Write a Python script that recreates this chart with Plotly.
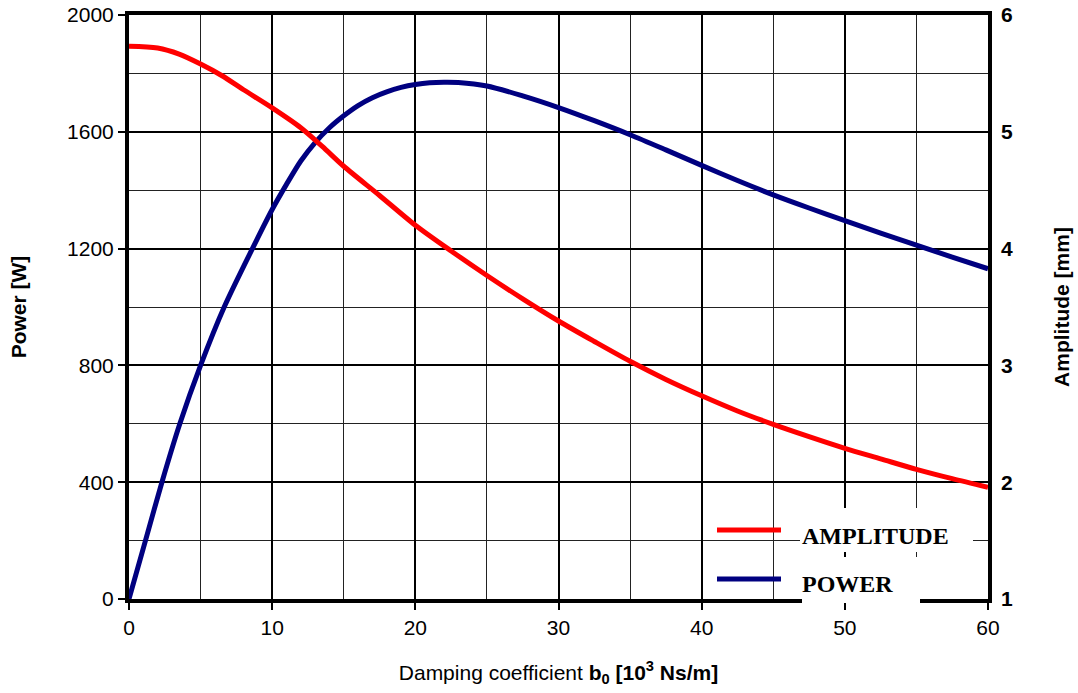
import plotly.graph_objects as go

# Power curve (left axis, W)
power_x = [0, 1.15, 2.3, 3.55, 5.0, 6.65, 8.62, 10, 11, 12, 13, 14, 15, 16, 17, 18, 19, 20, 21,
           22, 23, 25, 27.5, 30, 32.5, 35, 37.5, 40, 42.5, 45, 47.5, 50, 52.5, 55, 57.5, 60]
power_y = [0, 200, 400, 600, 800, 1000, 1200, 1334, 1420, 1500, 1563, 1614, 1655, 1690, 1717,
           1737, 1752, 1762, 1768, 1770, 1769, 1757, 1723, 1683, 1638, 1590, 1538, 1485, 1433,
           1384, 1339, 1296, 1253, 1212, 1171, 1131]

# Amplitude curve (right axis, mm)
amp_x = [0, 2, 3.5, 5, 6.5, 8, 10, 12, 13.5, 15, 17.5, 20, 22.5, 25, 27.5, 30, 32.5, 35, 37.5,
         40, 42.5, 45, 47.5, 50, 52.5, 55, 57.5, 60]
amp_y = [5.733, 5.717, 5.665, 5.58, 5.48, 5.36, 5.205, 5.035, 4.875, 4.705, 4.455, 4.2, 3.98,
         3.77, 3.57, 3.38, 3.205, 3.035, 2.88, 2.74, 2.61, 2.495, 2.39, 2.29, 2.2, 2.11, 2.03,
         1.956]

legend_names = ["AMPLITUDE", "POWER"]
RED = "#FF0000"
NAVY = "#000080"

fig = go.Figure()
fig.add_trace(go.Scatter(x=amp_x, y=amp_y, yaxis="y2", mode="lines", name=legend_names[0],
                         line=dict(color=RED, width=5, shape="spline", smoothing=0.8),
                         showlegend=False))
fig.add_trace(go.Scatter(x=power_x, y=power_y, mode="lines", name=legend_names[1],
                         line=dict(color=NAVY, width=5, shape="spline", smoothing=0.8),
                         showlegend=False))

FONT = "Liberation Sans, Arial"
axis_font = dict(family=FONT, size=21, color="black")

fig.update_layout(
    width=1078, height=693,
    margin=dict(l=129, r=90, t=15, b=94, autoexpand=False),
    paper_bgcolor="white", plot_bgcolor="white",
    font=axis_font,
    xaxis=dict(
        range=[0, 60], dtick=10, tick0=0, automargin=False,
        showgrid=True, gridcolor="black", gridwidth=2,
        minor=dict(dtick=5, showgrid=True, gridcolor="#222222", gridwidth=1, ticks=""),
        showline=True, linecolor="black", linewidth=4, mirror=True,
        ticks="outside", ticklen=7, tickwidth=2, tickcolor="black",
        zeroline=False,
        title=dict(text="Damping coefficient <b>b<sub>0</sub> [10<sup>3</sup> Ns/m]</b>",
                   font=dict(family=FONT, size=21), standoff=28),
    ),
    yaxis=dict(
        range=[0, 2000], dtick=400, tick0=0, automargin=False,
        showgrid=True, gridcolor="black", gridwidth=2,
        minor=dict(dtick=200, showgrid=True, gridcolor="#222222", gridwidth=1, ticks=""),
        showline=True, linecolor="black", linewidth=4, mirror=True,
        ticks="outside", ticklen=7, tickwidth=2, tickcolor="black",
        zeroline=False,
        title=dict(text="<b>Power [W]</b>", font=dict(family=FONT, size=21), standoff=36),
    ),
    yaxis2=dict(
        range=[1, 6], dtick=1, tick0=1, overlaying="y", side="right", automargin=False,
        showgrid=False, zeroline=False, showline=False, ticks="",
        tickfont=dict(family=FONT, size=21, color="black", weight="bold"),
        ticklabelstandoff=12,
        title=dict(text="<b>Amplitude [mm]</b>", font=dict(family=FONT, size=21), standoff=42),
    ),
)

# Manual legend: white label boxes, sample lines and labels
def px_x(p):
    return (p - 129) / 859.0

def px_y(p):
    return (599 - p) / 584.0

boxes = [(800, 973, 508, 552), (802, 920, 557, 603)]
for (bx0, bx1, by0, by1) in boxes:
    fig.add_shape(type="rect", xref="paper", yref="paper", layer="above",
                  x0=px_x(bx0), x1=px_x(bx1), y0=px_y(by1), y1=px_y(by0),
                  line=dict(width=0), fillcolor="white")

legend_font = dict(family="Liberation Serif, Times New Roman", size=24, color="black")
for name, color, ly, ty in [(legend_names[0], RED, 530, 536), (legend_names[1], NAVY, 579, 584)]:
    fig.add_shape(type="line", xref="paper", yref="paper", layer="above",
                  x0=px_x(717), x1=px_x(781), y0=px_y(ly), y1=px_y(ly),
                  line=dict(color=color, width=5))
    fig.add_annotation(xref="paper", yref="paper", x=px_x(801), y=px_y(ty), xanchor="left",
                       yanchor="middle", text="<b>%s</b>" % name, showarrow=False,
                       font=legend_font, borderpad=0)

fig.write_html("out.html")
